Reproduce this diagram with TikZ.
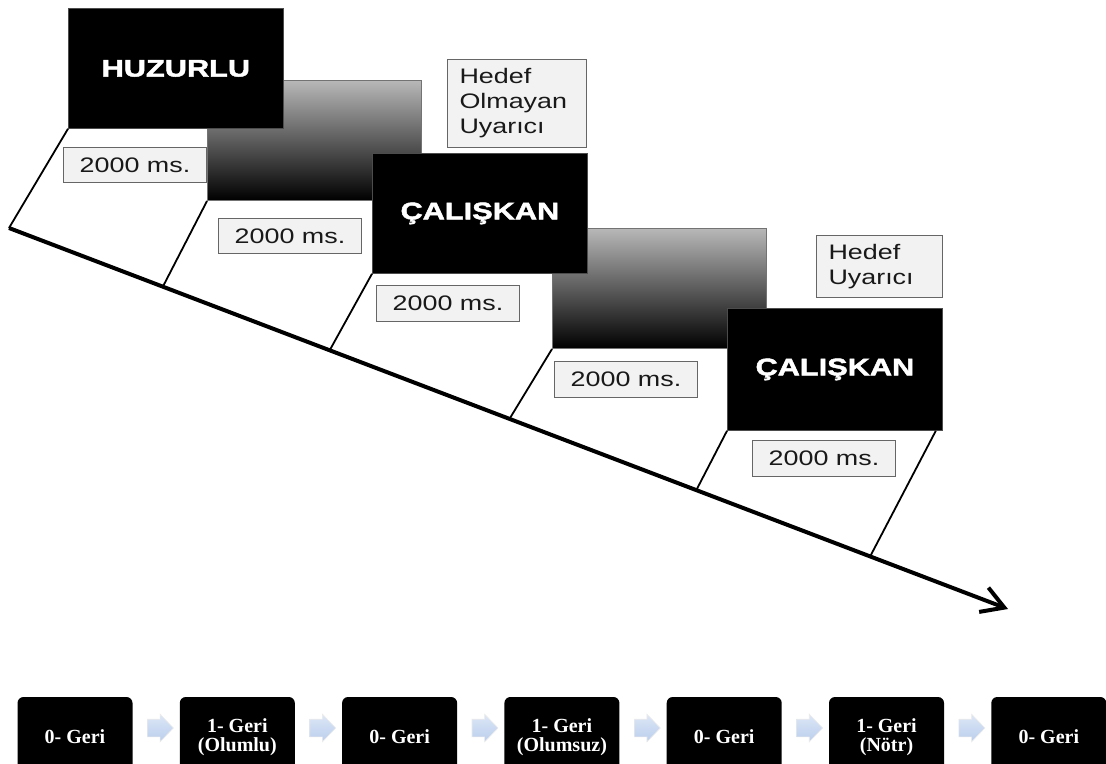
\documentclass[tikz,border=0pt]{standalone}
\usepackage{fontspec}
\setmainfont{Liberation Serif}
\newfontfamily\stimfont[FakeStretch=1.28, BoldFeatures={FakeBold=2}]{Liberation Sans}
\usetikzlibrary{arrows.meta, calc, shapes.arrows}

\definecolor{arrowblue}{RGB}{186,206,237}

\begin{document}
\begin{tikzpicture}[
        x=0.5pt, y=-0.5pt,
        every node/.style={inner sep=0pt},
        wordbox/.style={anchor=north west, fill=black, draw=black!70, line width=0.4pt,
            minimum width=107.5pt, minimum height=60pt, text=white,
            font=\stimfont\bfseries\fontsize{12}{14}\selectfont},
        fadebox/.style={anchor=north west, draw=black!55, line width=0.5pt,
            top color=black!28, bottom color=black, minimum width=107pt, minimum height=60pt},
        msbox/.style={anchor=north west, fill=black!5, draw=black!60, line width=0.5pt,
            minimum width=71.5pt, minimum height=17.75pt, text=black!90,
            font=\stimfont\fontsize{10.5}{12}\selectfont},
        notebox/.style={anchor=north west, fill=black!5, draw=black!60, line width=0.5pt,
            align=left, text width=#1, inner xsep=6pt, text=black!90,
            font=\stimfont\fontsize{10.5}{12.5}\selectfont},
        slantline/.style={line width=0.9pt},
        timeline/.style={line width=2pt, -{Straight Barb[length=11pt, width=13pt, line width=2pt]}},
        blockbox/.style={fill=black, rounded corners=3pt, minimum width=57.5pt, minimum height=40pt,
            text=white, align=center, font=\bfseries\fontsize{10}{9.5}\selectfont},
        blockarrow/.style={single arrow, top color=arrowblue!50!white, bottom color=arrowblue,
            draw=black!8, line width=0.3pt, inner xsep=0pt, inner ysep=4.25pt, minimum height=13pt,
            single arrow head extend=2.5pt, single arrow tip angle=92}
    ]
        \clip (0,0) rectangle (1106,764);
        \fill[white] (0,0) rectangle (1106,764);

        % --- Time axis ---
        \coordinate (tstart) at (9,228);
        \coordinate (tend) at (1008,609);
        \coordinate (p1) at ($(tstart)!0.154!(tend)$);
        \coordinate (p2) at ($(tstart)!0.321!(tend)$);
        \coordinate (p3) at ($(tstart)!0.501!(tend)$);
        \coordinate (p4) at ($(tstart)!0.688!(tend)$);
        \coordinate (p5) at ($(tstart)!0.862!(tend)$);

        % --- Duration boxes and notes ---
        \node[msbox] (ms1) at (63,147) {2000 ms.};
        \node[msbox] (ms2) at (218,218) {2000 ms.};
        \node[msbox] (ms3) at (376,285) {2000 ms.};
        \node[msbox] (ms4) at (554,361) {2000 ms.};
        \node[msbox] (ms5) at (752,440) {2000 ms.};
        \node[notebox=57.5pt, minimum height=44pt] (nontarget) at (447,59) {Hedef\\Olmayan\\Uyarıcı};
        \node[notebox=51pt, minimum height=31pt] (target) at (816,235) {Hedef\\Uyarıcı};

        % --- Blank screens ---
        \node[fadebox] (blank1) at (207,80) {};
        \node[fadebox] (blank2) at (552,228) {};

        % --- Word screens ---
        \node[wordbox] (word1) at (68,8) {HUZURLU};
        \node[wordbox] (word2) at (372,153) {ÇALIŞKAN};
        \node[wordbox, minimum height=61pt] (word3) at (727,308) {ÇALIŞKAN};

        % --- Links down to the axis ---
        \draw[slantline] (word1.south west) -- (tstart);
        \draw[slantline] (blank1.south west) -- (p1);
        \draw[slantline] (word2.south west) -- (p2);
        \draw[slantline] (blank2.south west) -- (p3);
        \draw[slantline] (word3.south west) -- (p4);
        \draw[slantline] ([xshift=-3.5pt]word3.south east) -- (p5);
        \draw[timeline] (tstart) -- (tend);

        % --- Block sequence ---
        \foreach \i/\txt in {1/{0- Geri}, 2/{1- Geri\\(Olumlu)}, 3/{0- Geri}, 4/{1- Geri\\(Olumsuz)},
                5/{0- Geri}, 6/{1- Geri\\(Nötr)}, 7/{0- Geri}}
            \node[blockbox] (b\i) at ({75+162.3*(\i-1)},737) {\txt};
        \foreach \i [evaluate=\i as \j using int(\i+1)] in {1,...,6}
            \node[blockarrow, yshift=4.5pt] (a\i) at ($(b\i.east)!0.5!(b\j.west)$) {};
\end{tikzpicture}
\end{document}
